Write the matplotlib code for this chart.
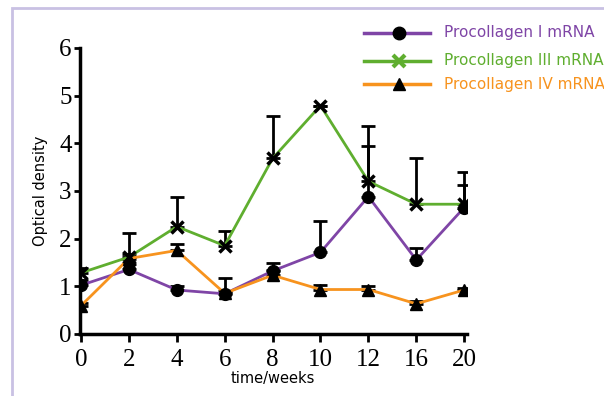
import matplotlib.pyplot as plt
from matplotlib.lines import Line2D
from matplotlib.patches import Rectangle
import numpy as np

# data
weeks = ["0", "2", "4", "6", "8", "10", "12", "16", "20"]
col1 = [1.02, 1.35, 0.92, 0.84, 1.32, 1.71, 2.88, 1.55, 2.65]
col3 = [1.28, 1.61, 2.25, 1.85, 3.68, 4.79, 3.20, 2.72, 2.72]
col4 = [0.59, 1.58, 1.75, 0.85, 1.23, 0.93, 0.93, 0.63, 0.92]
# upper error bars (only upper half shown)
err1 = [0.10, 0.12, 0.08, 0.34, 0.17, 0.66, 1.07, 0.25, 0.47]
err3 = [0.10, 0.50, 0.62, 0.30, 0.90, 0.00, 1.16, 0.96, 0.67]
err4 = [0.05, 0.10, 0.14, 0.05, 0.10, 0.10, 0.08, 0.05, 0.05]

purple = "#7f45a6"
green = "#5fae2f"
orange = "#f7931e"

fig = plt.figure(figsize=(6.04, 3.96), dpi=100)
ax = fig.add_axes([0.1325, 0.157, 0.64, 0.722])

x = np.arange(len(weeks))
series = [(col1, err1, purple, "o", "Procollagen I mRNA"),
          (col3, err3, green, "x", "Procollagen III mRNA"),
          (col4, err4, orange, "^", "Procollagen IV mRNA")]

for vals, err, c, m, lab in series:
    ax.errorbar(x, vals, yerr=[np.zeros(len(err)), err], fmt="none",
                ecolor="black", elinewidth=2, capsize=5, capthick=2, zorder=2)
for vals, err, c, m, lab in series:
    ax.plot(x, vals, color=c, lw=2, zorder=3)
for vals, err, c, m, lab in series:
    ax.plot(x, vals, ls="none", marker=m, color="black", ms=8.5,
            mew=2.5 if m == "x" else 1, zorder=4)

ax.set_xlim(-0.02, 8.05)
ax.set_ylim(0, 6)
ax.set_xticks(x)
ax.set_xticklabels(weeks)
ax.set_yticks(range(7))
for lbl in ax.get_xticklabels() + ax.get_yticklabels():
    lbl.set_family("Liberation Serif")
    lbl.set_fontsize(18)
ax.tick_params(axis="x", direction="out", length=6, width=2, pad=5)
ax.tick_params(axis="y", direction="out", length=4, width=2, pad=2)
ax.spines["top"].set_visible(False)
ax.spines["right"].set_visible(False)
ax.spines["left"].set_linewidth(2.5)
ax.spines["bottom"].set_linewidth(2.5)
ax.set_ylabel("Optical density", fontsize=10.5, family="DejaVu Sans", labelpad=8)
ax.set_xlabel("time/weeks", fontsize=10.5, family="DejaVu Sans", labelpad=0)

# hand-made legend
rows = [33, 61, 84]
for (vals, err, c, m, lab), yp in zip(series, rows):
    yf = 1 - yp / 396
    fig.add_artist(Line2D([364 / 604, 430 / 604], [yf, yf], color=c, lw=2.5))
    mc = green if m == "x" else "black"
    fig.add_artist(Line2D([399 / 604], [yf], marker=m, color=mc, ms=9,
                          mew=3 if m == "x" else 1))
    fig.text(444 / 604, yf, lab, color=c, fontsize=11,
             family="DejaVu Sans", va="center")

# lavender frame
fig.add_artist(Rectangle((12 / 604, -0.1), 1.2, 1 - 8 / 396 + 0.1,
                         transform=fig.transFigure, fill=False,
                         edgecolor="#c9c1e3", lw=2))

fig.savefig("out.png", dpi=100)
